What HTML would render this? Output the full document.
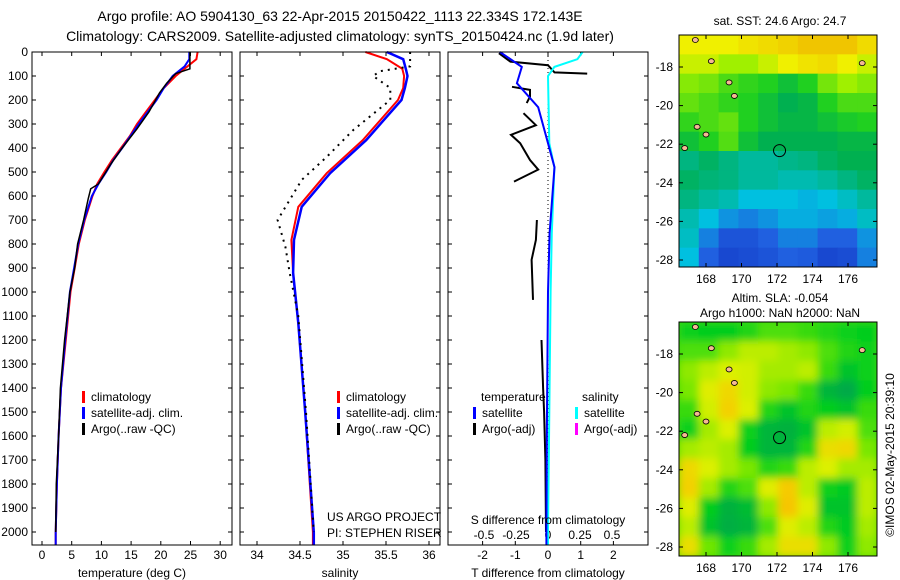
<!DOCTYPE html>
<html><head><meta charset="utf-8"><style>
html,body{margin:0;padding:0;background:#fff}
svg{display:block;font-family:"Liberation Sans",sans-serif}
</style></head><body>
<svg id="fig" width="900" height="580" viewBox="0 0 900 580">
<defs><filter id="blur" x="0" y="0" width="100%" height="100%"><feGaussianBlur stdDeviation="4"/></filter>
<clipPath id="c1"><rect x="679" y="35" width="198" height="232"/></clipPath>
<clipPath id="c2"><rect x="679" y="322" width="198" height="234"/></clipPath></defs>
<text x="340" y="21" font-size="14" text-anchor="middle">Argo profile: AO 5904130_63 22-Apr-2015 20150422_1113 22.334S 172.143E</text>
<text x="340" y="41" font-size="14" text-anchor="middle">Climatology: CARS2009. Satellite-adjusted climatology: synTS_20150424.nc (1.9d later)</text>
<g id="g"></g>
</svg>
<script>
const depthT=[0,30,60,100,150,200,250,300,350,400,450,500,550,600,700,800,900,1000,1200,1400,1600,1800,2000,2055];
const tempClim=[26.2,26,24.5,22.5,20.5,19,17.5,16,14.8,13.3,11.8,10.5,9.3,8.5,7.2,6.2,5.5,4.8,4,3.2,2.8,2.5,2.3,2.3];
const tempSat=[24.8,24.8,24,22,20.5,19.3,17.8,16.3,14.9,13.5,12,10.8,9.5,8.4,7.1,6.1,5.4,4.7,3.9,3.2,2.8,2.5,2.3,2.3];
const depthA=[0,70,90,130,170,250,320,400,470,550,570,610,700,800,900,1000,1200,1400,1600,1800,2000];
const tempArgo=[24.9,24.9,22.5,21,19.8,18,16,13.5,11.5,9.5,8.2,7.8,7,6,5.5,4.7,3.8,3.1,2.8,2.4,2.3];
const depthS=[0,30,70,100,150,200,367,505,645,783,920,1130,1500,2000,2055];
const salClim=[35.26,35.51,35.69,35.71,35.7,35.64,35.23,34.81,34.48,34.40,34.42,34.48,34.56,34.65,34.65];
const salSat=[35.51,35.7,35.73,35.75,35.72,35.68,35.27,34.85,34.52,34.43,34.42,34.48,34.56,34.66,34.66];
const depthSA=[0,60,80,100,150,200,325,437,533,700,812,920,1100,1500,2000];
const salArgo=[35.78,35.78,35.43,35.35,35.55,35.55,35.12,34.81,34.52,34.24,34.33,34.38,34.48,34.57,34.66];
const depthDT=[0,62,130,230,380,480,755,1000,1500,2000,2055];
const dTsat=[-1.47,-0.8,-0.95,-0.3,0,0.2,0.05,0,-0.03,-0.05,-0.05];
const depthDS=[0,30,62,100,380,480,755,1000,1500,2000,2055];
const dSsat=[0.27,0.23,0.05,0,0.01,0.05,0.03,0.02,0.01,0,0];
const depthDA=[5,40,55,85,90,null,145,158,186,213,null,255,305,345,380,450,490,540,null,700,783,866,1033,null,1200,1400,1500,1700,2000];
const dTargo=[-1.5,-1.15,0,0.2,1.2,null,-1.1,-0.55,-0.55,-0.65,null,-0.75,-0.37,-1.13,-0.85,-0.55,-0.3,-1.04,null,-0.34,-0.37,-0.5,-0.46,null,-0.2,-0.15,-0.12,-0.08,-0.06];
const depthTicks=[0,100,200,300,400,500,600,700,800,900,1000,1100,1200,1300,1400,1500,1600,1700,1800,1900,2000];
const tTicks=[0,5,10,15,20,25,30];
const sTicks=[34,34.5,35,35.5,36];
const dtTicks=[-2,-1,0,1,2];
const dsTicks=[-0.5,-0.25,0,0.25,0.5];
const dsTickLabels=["-0.5","-0.25","0","0.25","0.5"];
const latTicks=[-18,-20,-22,-24,-26,-28];
const lonTicks=[168,170,172,174,176];
const argoLon=172.143, argoLat=-22.334;
const sstGrid=[
[.85,.85,.85,.88,.9,.92,.95,.95,.95,.9],
[.8,.8,.75,.75,.8,.85,.88,.9,.85,.8],
[.72,.7,.65,.62,.6,.55,.6,.7,.75,.72],
[.68,.65,.62,.6,.55,.5,.52,.6,.65,.65],
[.62,.65,.68,.6,.55,.52,.52,.55,.58,.6],
[.55,.6,.66,.55,.5,.5,.5,.5,.52,.52],
[.45,.48,.45,.42,.42,.44,.45,.48,.5,.5],
[.48,.46,.45,.42,.42,.4,.4,.42,.45,.48],
[.45,.42,.4,.35,.35,.35,.33,.35,.38,.42],
[.4,.35,.28,.25,.28,.32,.32,.3,.32,.38],
[.38,.25,.15,.15,.2,.25,.25,.2,.2,.28],
[.35,.2,.1,.12,.15,.2,.18,.1,.12,.25]];
const slaGrid=[
[.56,.55,.55,.58,.62,.62,.6,.58,.56,.55],
[.62,.62,.68,.72,.72,.7,.68,.62,.58,.56],
[.68,.72,.75,.74,.7,.7,.72,.6,.52,.56],
[.66,.76,.82,.74,.68,.66,.6,.48,.45,.55],
[.6,.74,.84,.75,.58,.52,.58,.55,.52,.6],
[.56,.7,.75,.56,.48,.47,.52,.72,.74,.62],
[.7,.72,.7,.55,.48,.48,.58,.8,.82,.66],
[.82,.75,.7,.66,.58,.6,.72,.75,.7,.7],
[.84,.7,.58,.62,.76,.86,.72,.56,.54,.72],
[.76,.55,.47,.5,.68,.88,.76,.52,.52,.72],
[.72,.52,.46,.48,.62,.76,.72,.58,.54,.7],
[.8,.65,.56,.6,.7,.8,.8,.68,.56,.68]];
const islandLon=[168.3,167.4,169.3,169.6,167.5,168.0,166.8,176.8];
const islandLat=[-17.7,-16.6,-18.8,-19.5,-21.1,-21.5,-22.2,-17.8];

const NS="http://www.w3.org/2000/svg";
const G=document.getElementById('g');
function el(t,a,p){const e=document.createElementNS(NS,t);for(const k in a)e.setAttribute(k,a[k]);(p||G).appendChild(e);return e;}
const Y=d=>52+d*0.24;
const P1={l:32,r:232}, P2={l:240,r:440}, P3={l:448,r:648};
const xT=v=>42+v*5.94, xS=v=>257+(v-34)*86, xDT=v=>548+v*32.7, xDS=v=>548+v*128;
function line(ds,vs,fx,col,w,name,dash){
  let d="",pen=false;
  for(let i=0;i<ds.length;i++){if(ds[i]===null||vs[i]===null){pen=false;continue;}
    d+=(pen?"L":"M")+fx(vs[i]).toFixed(1)+" "+Y(ds[i]).toFixed(1);pen=true;}
  const e=el('path',{d:d,fill:'none',stroke:col,'stroke-width':w});
  if(dash)e.setAttribute('stroke-dasharray',dash);
  
  
}
function frame(P,name){
  const e=el('rect',{x:P.l,y:52,width:P.r-P.l,height:493,fill:'none',stroke:'#000','stroke-width':1});
  
  
}
function xticks(P,ticks,fx,labels,ly){
  ticks.forEach((v,i)=>{const x=fx(v);
    el('line',{x1:x,x2:x,y1:52,y2:56,stroke:'#000'});el('line',{x1:x,x2:x,y1:545,y2:541,stroke:'#000'});
    if(ly){const t=el('text',{x:x,y:ly,'font-size':12,'text-anchor':'middle'});t.textContent=labels[i];
      
      }});
}
function legend(x,y,items){items.forEach((it,i)=>{
  el('rect',{x:x,y:y+i*16-10,width:3,height:12,fill:it[0]});
  const t=el('text',{x:x+9,y:y+i*16,'font-size':12});t.textContent=it[1];
  
  });}
[P1,P2,P3].forEach(P=>depthTicks.forEach(d=>{el('line',{x1:P.l,x2:P.l+4,y1:Y(d),y2:Y(d),stroke:'#000'});el('line',{x1:P.r,x2:P.r-4,y1:Y(d),y2:Y(d),stroke:'#000'});}));
depthTicks.forEach(d=>{const t=el('text',{x:28,y:Y(d)+4,'font-size':12,'text-anchor':'end'});t.textContent=d;
  
  });
xticks(P1,tTicks,xT,tTicks.map(String),559);
line(depthT,tempClim,xT,'#f00',2,'temp-climatology-line');
line(depthT,tempSat,xT,'#00f',2,'temp-satellite-line');
line(depthA,tempArgo,xT,'#000',1.5,'temp-argo-line');
frame(P1,'temperature-panel');
let t=el('text',{x:132,y:577,'font-size':12,'text-anchor':'middle'});t.textContent='temperature (deg C)';

legend(82,401,[['#f00','climatology'],['#00f','satellite-adj. clim.'],['#000','Argo(..raw -QC)']]);
xticks(P2,sTicks,xS,sTicks.map(String),559);
line(depthS,salClim,xS,'#f00',2,'sal-climatology-line');
line(depthS,salSat,xS,'#00f',2.5,'sal-satellite-line');
line(depthSA,salArgo,xS,'#000',2,'sal-argo-line','2,5');
frame(P2,'salinity-panel');
t=el('text',{x:340,y:577,'font-size':12,'text-anchor':'middle'});t.textContent='salinity';

legend(337,401,[['#f00','climatology'],['#00f','satellite-adj. clim.'],['#000','Argo(..raw -QC)']]);
t=el('text',{x:327,y:521,'font-size':12});t.textContent='US ARGO PROJECT';

t=el('text',{x:327,y:537,'font-size':12});t.textContent='PI: STEPHEN RISER';

xticks(P3,dtTicks,xDT,dtTicks.map(String),559);
dsTicks.forEach((v,i)=>{const x=xDS(v);const tt=el('text',{x:x,y:539,'font-size':12,'text-anchor':'middle'});tt.textContent=dsTickLabels[i];
  });
el('line',{x1:xDT(0),x2:xDT(0),y1:52,y2:545,stroke:'#000','stroke-dasharray':'1,3'});
line(depthDA,dTargo,xDT,'#000',2,'t-diff-argo-line');
line(depthDS,dSsat,xDS,'#0ff',2,'s-diff-satellite-line');
line(depthDT,dTsat,xDT,'#00f',2,'t-diff-satellite-line');
frame(P3,'difference-panel');
t=el('text',{x:548,y:524,'font-size':12,'text-anchor':'middle'});t.textContent='S difference from climatology';

t=el('text',{x:548,y:577,'font-size':12,'text-anchor':'middle'});t.textContent='T difference from climatology';

t=el('text',{x:481,y:401,'font-size':12});t.textContent='temperature';

t=el('text',{x:582,y:401,'font-size':12});t.textContent='salinity';

legend(473,417,[['#00f','satellite'],['#000','Argo(-adj)']]);
legend(575,417,[['#0ff','satellite'],['#f0f','Argo(-adj)']]);
const stops=[[0,[16,48,192]],[.2,[32,96,224]],[.35,[0,192,224]],[.5,[0,176,80]],[.6,[32,208,32]],[.75,[160,240,0]],[.85,[240,240,0]],[1,[240,176,0]]];
const slaStops=[[0,[0,150,90]],[.45,[0,170,70]],[.55,[0,205,30]],[.65,[110,230,0]],[.75,[220,240,0]],[.85,[245,205,0]],[1,[250,170,0]]];
function cmap(v,st){st=st||stops;for(let i=1;i<st.length;i++){if(v<=st[i][0]){const a=st[i-1],b=st[i],f=(v-a[0])/(b[0]-a[0]);
  return 'rgb('+a[1].map((c,k)=>Math.round(c+(b[1][k]-c)*f)).join(',')+')';}}const l=st[st.length-1][1];return 'rgb('+l.join(',')+')';}
function map(top,bot,grid,clip,blur,name,st){
  const lonX=v=>706+(v-168)*17.75, latY=v=>top+32+(-18-v)*19.3;
  const grp=el('g',{'clip-path':'url(#'+clip+')'});
  
  const inner=el('g',blur?{filter:'url(#blur)'}:{},grp);
  const rows=grid.length,cols=grid[0].length,cw=198/cols,ch=(bot-top)/rows;
  if(blur)el('rect',{x:660,y:top-20,width:240,height:bot-top+40,fill:cmap(.6,st)},inner);
  grid.forEach((r,i)=>r.forEach((v,j)=>{el('rect',{x:679+j*cw,y:top+i*ch,width:cw+0.5,height:ch+0.5,fill:cmap(v,st)},inner);}));
  islandLon.forEach((lo,i)=>{const e=el('ellipse',{cx:lonX(lo),cy:latY(islandLat[i]),rx:3,ry:2.5,fill:'#f5b894',stroke:'#000','stroke-width':0.8},grp);
    });
  const c=el('circle',{cx:lonX(argoLon),cy:latY(argoLat),r:6,fill:'none',stroke:'#000'},grp);
  
  el('rect',{x:679,y:top,width:198,height:bot-top,fill:'none',stroke:'#000'});
  latTicks.forEach(v=>{const y=latY(v);el('line',{x1:679,x2:683,y1:y,y2:y,stroke:'#000'});el('line',{x1:877,x2:873,y1:y,y2:y,stroke:'#000'});
    const tt=el('text',{x:673,y:y+4,'font-size':12,'text-anchor':'end'});tt.textContent=v;
    });
  lonTicks.forEach(v=>{const x=lonX(v);el('line',{x1:x,x2:x,y1:top,y2:top+4,stroke:'#000'});el('line',{x1:x,x2:x,y1:bot,y2:bot-4,stroke:'#000'});
    const tt=el('text',{x:x,y:bot+16,'font-size':12,'text-anchor':'middle'});tt.textContent=v;
    });
}
map(35,267,sstGrid,'c1',false,'sst-map',stops);
map(322,556,slaGrid,'c2',true,'sla-map',slaStops);
t=el('text',{x:780,y:25,'font-size':12,'text-anchor':'middle'});t.textContent='sat. SST: 24.6  Argo: 24.7';

t=el('text',{x:780,y:302,'font-size':12,'text-anchor':'middle'});t.textContent='Altim. SLA: -0.054';

t=el('text',{x:780,y:317,'font-size':12,'text-anchor':'middle'});t.textContent='Argo h1000: NaN h2000: NaN';

t=el('text',{x:0,y:0,'font-size':12,'text-anchor':'middle',transform:'translate(894,455) rotate(-90)'});t.textContent='©IMOS 02-May-2015 20:39:10';

</script>
</body></html>
